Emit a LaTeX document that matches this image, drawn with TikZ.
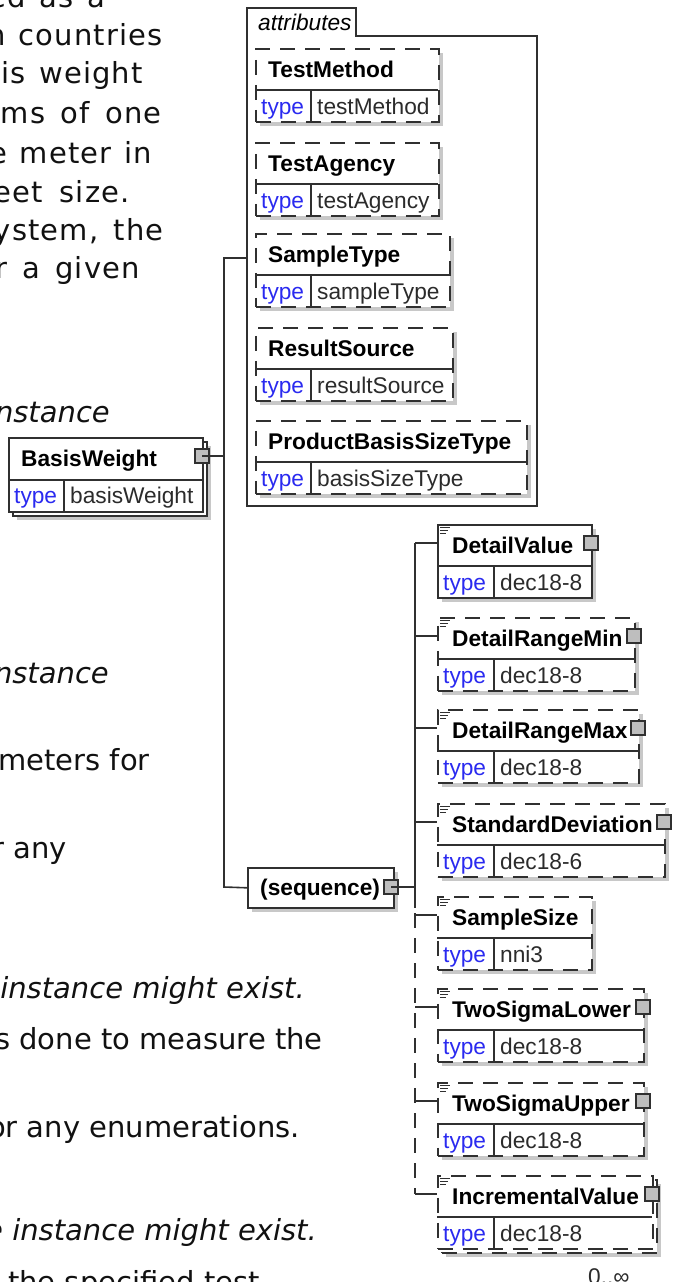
\documentclass[tikz,border=0pt]{standalone}
\usepackage{fontspec}
\setmainfont{Liberation Sans}
\newfontfamily\pagefont{DejaVu Sans}
\newfontfamily\pagewide[LetterSpace=4]{DejaVu Sans}
\definecolor{xsdInk}{HTML}{303030}
\definecolor{xsdBlue}{HTML}{2A2AF0}
\definecolor{xsdValue}{HTML}{2B2B2B}
\definecolor{xsdShade}{HTML}{C8C8C8}
\definecolor{xsdKnob}{HTML}{BEBEBE}
\definecolor{pageInk}{HTML}{111111}
\tikzset{
  every picture/.style={font=\fontsize{22.7}{27}\selectfont, text=xsdValue},
  xsd frame/.style={draw=xsdInk, line width=1.6pt, fill=white, rectangle,
    inner sep=0pt, minimum height=73, anchor=north west},
  xsd dash/.style={dash pattern=on 15pt off 10pt},
  xsd rule/.style={draw=xsdInk, line width=1.6pt},
  xsd link/.style={draw=xsdInk, line width=1.6pt},
  xsd shade/.style={fill=xsdShade},
  xsd knob/.style={draw=xsdInk, fill=xsdKnob, line width=1.2pt, rectangle,
    minimum size=14, inner sep=0pt},
  xsd name/.style={font=\bfseries\fontsize{22.7}{27}\selectfont, text=black,
    anchor=base west, inner sep=0pt},
  xsd key/.style={text=xsdBlue, anchor=base west, inner sep=0pt},
  xsd value/.style={text=xsdValue, anchor=base west, inner sep=0pt},
  page text/.style={font=\pagefont\fontsize{29}{35}\selectfont, text=pageInk,
    inner sep=0pt, anchor=base east},
  page wide/.style={page text, font=\pagewide\fontsize{29}{35}\selectfont},
  page italic/.style={page text, font=\pagefont\itshape\fontsize{29}{35}\selectfont}
}
\begin{document}
\begin{tikzpicture}[x=1pt,y=-1pt]
  \useasboundingbox (0,0) rectangle (672,1282);
  \clip (0,0) rectangle (672,1282);

  \foreach \txt/\xe/\span/\yb [count=\i] in {ed as a/105/116/7,
      n countries/163/175/45, is weight/143/141/83, ams of one/162/180/123,
      e meter in/152/162/163, eet size./130/136/202,
      {ystem, the}/164/170/240, r a given/140/144/278}
    \node[page wide] (para\i) at (\xe,\yb) {\makebox[\span pt][s]{\txt}};
  \foreach \txt/\xe/\yb [count=\i] in {meters for/150/770, r any/67/858,
      s done to measure the/323/1049, or any enumerations./300/1137,
      f the specified test/260/1292}
    \node[page text] (txt\i) at (\xe,\yb) {\txt};
  \foreach \txt/\xe/\yb [count=\i] in {nstance/110/422, nstance/109/683,
      instance might exist./305/998, e instance might exist./317/1240}
    \node[page italic] (ital\i) at (\xe,\yb) {\txt};

  % attributes group
  \draw[xsd rule] (247,506) -- (247,8) -- (356,8) -- (356,36) -- (537,36)
    -- (537,506) -- cycle;
  \node[xsd value, font=\itshape\fontsize{22.7}{27}\selectfont, text=black]
    (attr-label) at (258,30) {attributes};
  \foreach \nm/\lab/\val/\yt/\w in {tm/TestMethod/testMethod/48/183,
      ta/TestAgency/testAgency/142/183, st/SampleType/sampleType/233/194,
      rs/ResultSource/resultSource/327/197,
      pbs/ProductBasisSizeType/basisSizeType/420/271}{
    \fill[xsd shade] (260,\yt+5) rectangle ++(\w,73);
    \node[xsd frame, xsd dash, minimum width=\w] (\nm) at (255,\yt) {};
    \draw[xsd rule] (255,\yt+42) -- ++(\w,0);
    \draw[xsd rule] (311,\yt+42) -- (311,\yt+73);
    \node[xsd name] (\nm-name) at (268,\yt+29) {\lab};
    \node[xsd key] (\nm-key) at (261,\yt+66) {type};
    \node[xsd value] (\nm-val) at (317,\yt+66) {\val};
  }

  % BasisWeight
  \fill[xsd shade] (17,446) rectangle ++(194,74);
  \node[xsd frame, minimum width=194, minimum height=74] (bw-back) at (12,441) {};
  \node[xsd frame, minimum width=194, minimum height=74] (bw) at (8,437) {};
  \draw[xsd rule] (8,480) -- (202,480);
  \draw[xsd rule] (64,480) -- (64,511);
  \node[xsd name] (bw-name) at (21,466) {BasisWeight};
  \node[xsd key] (bw-key) at (14,503) {type};
  \node[xsd value] (bw-val) at (70,503) {basisWeight};
  \node[xsd knob] (bw-knob) at (202,456) {};

  \coordinate (bw top) at (224,258);
  \coordinate (bw end) at (224,887);
  \coordinate (attr in) at (247,258);
  \draw[xsd link] (bw-knob.center) -- (bw-knob.center -| bw top);

  % sequence
  \fill[xsd shade] (252,872) rectangle ++(146,40);
  \node[xsd frame, minimum width=146, minimum height=40] (seq) at (247,867) {};
  \node[xsd name] (seq-name) at (260,895) {(sequence)};
  \node[xsd knob] (seq-knob) at (391,887) {};
  \draw[xsd link] (attr in) -- (bw top) -- (bw end) -- (seq.west);

  \coordinate (kids top) at (415,543);
  \coordinate (kids split) at (415,908);
  \coordinate (kids gap) at (415,913);
  \coordinate (kids end) at (415,1194);
  \draw[xsd link] (seq-knob.center) -- (seq-knob.center -| kids top);
  \draw[xsd link] (kids top) -- (kids split);
  \draw[xsd link, xsd dash] (kids gap) -- (kids end);

  \foreach \nm/\lab/\val/\yt/\w/\pat/\knob/\deep in {
      dv/DetailValue/dec18-8/524/154/solid/1/0,
      drmin/DetailRangeMin/dec18-8/617/197/xsd dash/1/0,
      drmax/DetailRangeMax/dec18-8/709/201/xsd dash/1/0,
      sd/StandardDeviation/dec18-6/803/227/xsd dash/1/0,
      ss/SampleSize/nni3/896/154/xsd dash/0/0,
      tsl/TwoSigmaLower/dec18-8/988/206/xsd dash/1/0,
      tsu/TwoSigmaUpper/dec18-8/1082/206/xsd dash/1/0,
      iv/IncrementalValue/dec18-8/1175/215/xsd dash/1/4}{
    \fill[xsd shade] (442+\deep,\yt+5+\deep) rectangle ++(\w,73);
    \ifnum\deep>0
      \node[xsd frame, \pat, minimum width=\w] (\nm-back) at (437+\deep,\yt+\deep) {};
    \fi
    \node[xsd frame, \pat, minimum width=\w] (\nm) at (437,\yt) {};
    \draw[xsd rule] (437,\yt+42) -- ++(\w,0);
    \draw[xsd rule] (494,\yt+42) -- (494,\yt+73);
    \draw[xsd rule, line width=0.9pt] (440,\yt+3) -- ++(10,0)
      (440,\yt+6) -- ++(8,0) (440,\yt+9) -- ++(6,0);
    \node[xsd name] (\nm-name) at (452,\yt+29) {\lab};
    \node[xsd key] (\nm-key) at (443,\yt+66) {type};
    \node[xsd value] (\nm-val) at (500,\yt+66) {\val};
    \coordinate (\nm-in) at (437,\yt+19);
    \draw[xsd link] (kids top |- \nm-in) -- (\nm-in);
    \ifnum\knob=1
      \node[xsd knob] (\nm-knob) at (437+\w,\yt+19) {};
    \fi
  }
  \node[xsd value] (iv-card) at (588,1284) {0..∞};
\end{tikzpicture}
\end{document}
